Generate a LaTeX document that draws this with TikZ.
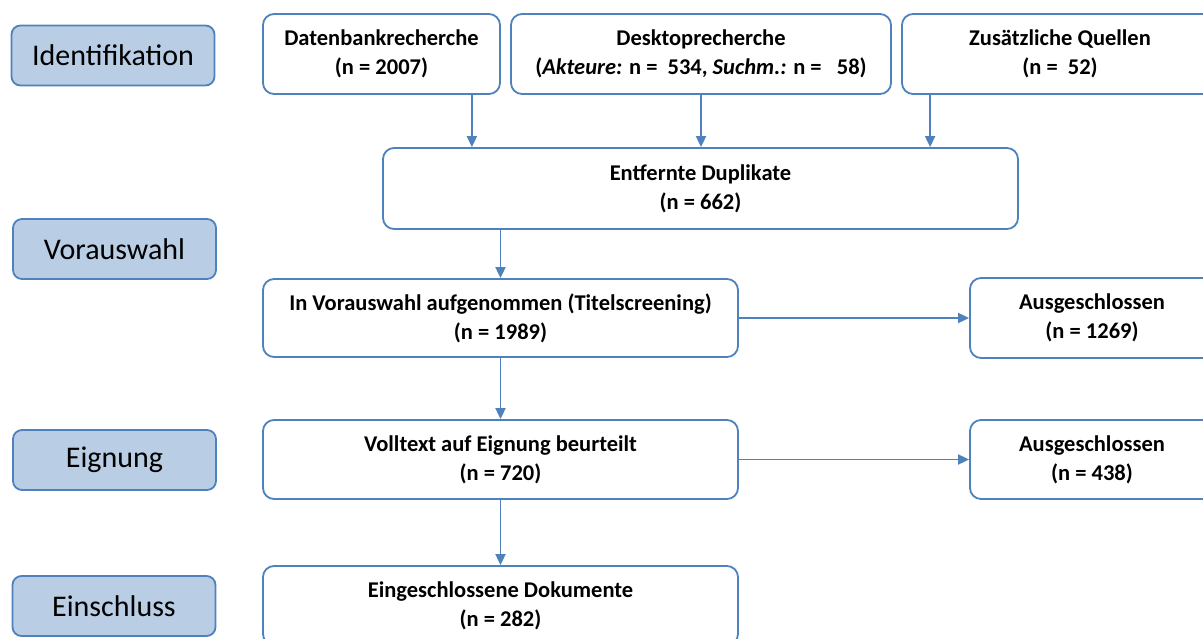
\documentclass[tikz,border=0pt]{standalone}
\usepackage{fontspec}
\setmainfont{Carlito}
\usetikzlibrary{arrows.meta}
\definecolor{steelblue}{HTML}{4F81BD}
\definecolor{paleblue}{HTML}{B9CDE5}

\begin{document}
\begin{tikzpicture}[x=1pt, y=-1pt, >={Triangle[length=11pt, width=10pt]}, line width=1.8pt]

\path[use as bounding box, clip] (0,0) rectangle (1203,638);

\tikzstyle{every node}=[rectangle, rounded corners=9pt, draw=steelblue, fill=paleblue, text=black, minimum width=203pt, minimum height=60pt, inner sep=0pt, font=\fontsize{30}{36}\selectfont]
\draw    (113,  55.5) node (ident) {Identifikation}
         (114.5, 249) node (vsel) {Vorauswahl}
         (114.5, 460) node (eign) {Eignung}
         (114,  606) node (einl) {Einschluss};

\tikzstyle{every node}=[rectangle, rounded corners=11pt, draw=steelblue, fill=white, text=black, inner sep=0pt, align=center, font=\bfseries\fontsize{22.5}{29}\selectfont]
\draw    (381.5, 54) node[minimum width=237pt, minimum height=80pt] (dbr) {Datenbankrecherche\\(n = 2007)}
         (701,   54) node[minimum width=380pt, minimum height=80pt] (dsk) {Desktoprecherche\\(\textit{Akteure:} n =~~534, \textit{Suchm.:} n =~~~58)}
         (1060,  54) node[minimum width=316pt, minimum height=80pt] (zus) {Zusätzliche Quellen\\(n =~~52)}
         (700.5, 188.5) node[minimum width=635pt, minimum height=81pt] (dup) {Entfernte Duplikate\\(n = 662)}
         (500.5, 318) node[minimum width=475pt, minimum height=78pt] (vor) {In Vorauswahl aufgenommen (Titelscreening)\\(n = 1989)}
         (1092,  318) node[minimum width=244pt, minimum height=80pt] (aus1) {Ausgeschlossen\\(n = 1269)}
         (500.5, 459.5) node[minimum width=475pt, minimum height=79pt] (vol) {Volltext auf Eignung beurteilt\\(n = 720)}
         (1092,  459.5) node[minimum width=244pt, minimum height=79pt] (aus2) {Ausgeschlossen\\(n = 438)}
         (500.5, 605.5) node[minimum width=475pt, minimum height=79pt] (ein) {Eingeschlossene Dokumente\\(n = 282)};

\draw [->, draw = steelblue] ([xshift=-29pt]dbr.south east) coordinate (a1) -- (a1 |- dup.north);
\draw [->, draw = steelblue] (dsk.south) -- (dsk.south |- dup.north);
\draw [->, draw = steelblue] ([xshift=29pt]zus.south west) coordinate (a3) -- (a3 |- dup.north);
\draw [->, draw = steelblue] (vor.north |- dup.south) -- (vor.north);
\draw [->, draw = steelblue] (vor) -- (aus1);
\draw [->, draw = steelblue] (vor) -- (vol);
\draw [->, draw = steelblue] (vol) -- (aus2);
\draw [->, draw = steelblue] (vol) -- (ein);

\end{tikzpicture}
\end{document}
